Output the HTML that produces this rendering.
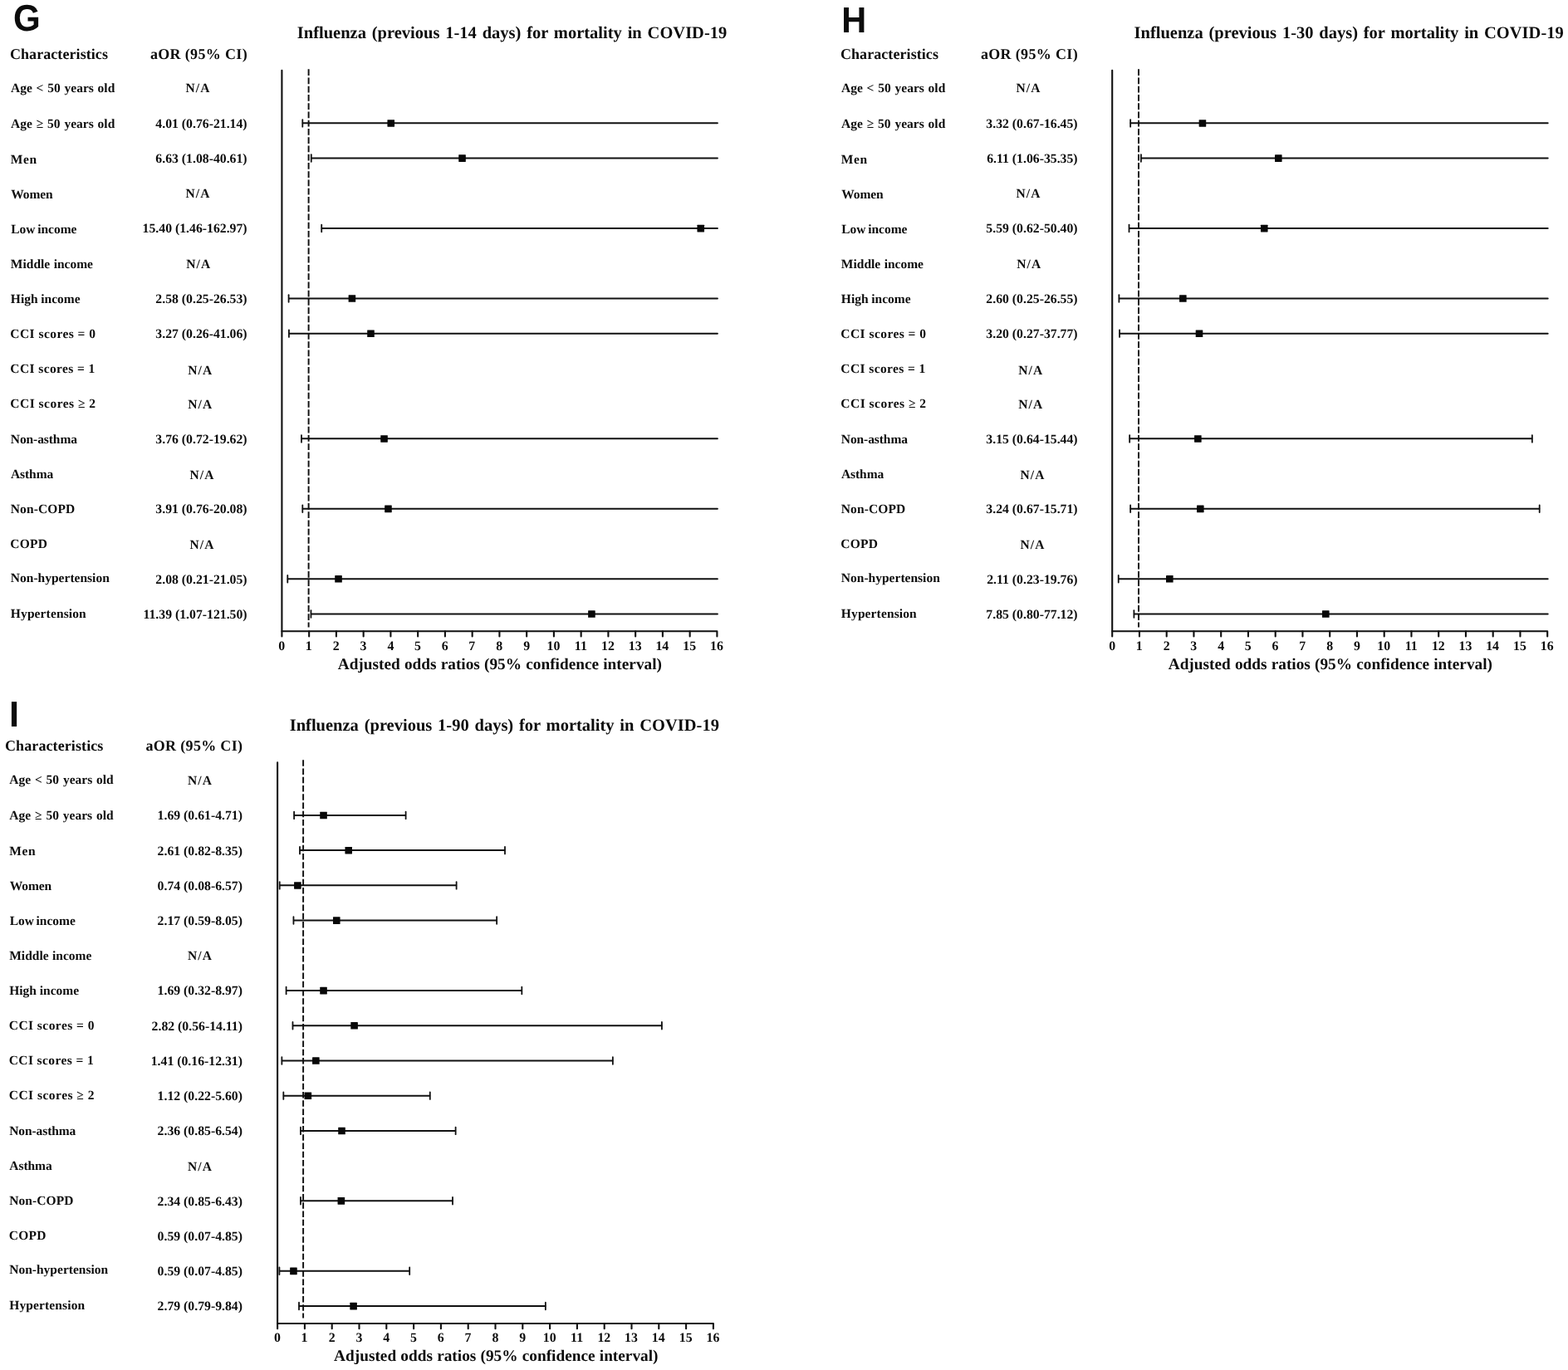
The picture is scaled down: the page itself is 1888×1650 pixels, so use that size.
<!DOCTYPE html>
<html lang="en"><head><meta charset="utf-8"><title>Forest plots G-I: influenza and mortality in COVID-19</title>
<style>
html,body{margin:0;padding:0;background:#fff}
body{width:1888px;height:1650px;overflow:hidden}
svg{display:block}
text{font-family:"Liberation Serif",serif;font-weight:bold;fill:#0c0c0c;white-space:pre;text-rendering:geometricPrecision}
.L{font-family:"Liberation Sans",sans-serif}
.T{font-size:20.5px}
.Hd{font-size:18px}
.R{font-size:15.5px}
.V{font-size:15.75px}
.K{font-size:15.85px}
.X{font-size:19.3px}
.ci{stroke:#111;stroke-width:2;fill:none;stroke-linecap:round}
.cap{stroke:#111;stroke-width:1.8;fill:none;stroke-linecap:round}
.ax{stroke:#111;stroke-width:2.1;fill:none;stroke-linejoin:round;stroke-linecap:round}
.dash{stroke:#111;stroke-width:1.95;fill:none;stroke-dasharray:7.6 2.65}
</style></head>
<body>
<svg width="1888" height="1650" viewBox="0 0 1888 1650">
<rect width="1888" height="1650" fill="#fff"/>
<g id="panelG">
<text class="L" font-size="44.63" transform="translate(16.07 36.66) scale(0.9430 1)">G</text>
<text class="T" x="357.81" y="46.2" style="word-spacing:1.71px">Influenza (previous 1-14 days) for mortality in COVID-19</text>
<text class="Hd" x="11.92" y="71.25" style="letter-spacing:0.076px">Characteristics</text>
<text class="Hd" x="180.92" y="71.25" style="letter-spacing:0.344px">aOR (95% CI)</text>
<text class="R" x="12.95" y="111.23" style="word-spacing:0.93px">Age &lt; 50 years old</text>
<text class="R" x="223.45" y="110.93" style="letter-spacing:1.108px">N/A</text>
<text class="R" x="12.95" y="154" style="word-spacing:1.01px">Age ≥ 50 years old</text>
<text class="V" x="187.36" y="153.8">4.01 (0.76-21.14)</text>
<text class="R" x="12.84" y="196.57" style="letter-spacing:0.635px">Men</text>
<text class="V" x="187.36" y="196.02">6.63 (1.08-40.61)</text>
<text class="R" x="13.28" y="238.74" style="letter-spacing:-0.088px">Women</text>
<text class="R" x="223.45" y="238.09" style="letter-spacing:1.108px">N/A</text>
<text class="R" x="13.24" y="280.91" style="word-spacing:-1.24px">Low income</text>
<text class="V" x="171.61" y="280.46">15.40 (1.46-162.97)</text>
<text class="R" x="12.84" y="322.53" style="word-spacing:0.58px">Middle income</text>
<text class="R" x="224.3" y="322.53" style="letter-spacing:1.108px">N/A</text>
<text class="R" x="12.84" y="364.75" style="word-spacing:-0.14px">High income</text>
<text class="V" x="187.36" y="364.9">2.58 (0.25-26.53)</text>
<text class="R" x="12.34" y="406.57" style="letter-spacing:0.450px">CCI scores = 0</text>
<text class="V" x="187.36" y="407.12">3.27 (0.26-41.06)</text>
<text class="R" x="12.34" y="448.74" style="letter-spacing:0.397px">CCI scores = 1</text>
<text class="R" x="226.3" y="450.59" style="letter-spacing:1.058px">N/A</text>
<text class="R" x="12.34" y="491.01" style="letter-spacing:0.481px">CCI scores ≥ 2</text>
<text class="R" x="226.3" y="492.21" style="letter-spacing:1.058px">N/A</text>
<text class="R" x="12.8" y="534.13" style="letter-spacing:-0.086px">Non-asthma</text>
<text class="V" x="187.36" y="533.78">3.76 (0.72-19.62)</text>
<text class="R" x="12.95" y="575.75" style="letter-spacing:-0.077px">Asthma</text>
<text class="R" x="228.45" y="576.6" style="letter-spacing:1.108px">N/A</text>
<text class="R" x="12.8" y="617.57" style="letter-spacing:0.102px">Non-COPD</text>
<text class="V" x="187.36" y="618.22">3.91 (0.76-20.08)</text>
<text class="R" x="12.34" y="659.89" style="letter-spacing:0.251px">COPD</text>
<text class="R" x="228.45" y="660.74" style="letter-spacing:1.108px">N/A</text>
<text class="R" x="12.8" y="701.21" style="letter-spacing:0.012px">Non-hypertension</text>
<text class="V" x="187.36" y="702.66">2.08 (0.21-21.05)</text>
<text class="R" x="12.84" y="743.53" style="letter-spacing:0.122px">Hypertension</text>
<text class="V" x="172.48" y="744.88">11.39 (1.07-121.50)</text>
<path class="ci" d="M364.69 148.35H863.9"/><path class="cap" d="M364.29 144.05v8.6"/><rect x="466.43" y="144.15" width="8.6" height="8.6" rx="0.4" fill="#080808"/>
<path class="ci" d="M375.17 190.57H863.9"/><path class="cap" d="M374.77 186.27v8.6"/><rect x="552.23" y="186.37" width="8.6" height="8.6" rx="0.4" fill="#080808"/>
<path class="ci" d="M387.61 275.01H863.9"/><path class="cap" d="M387.21 270.71v8.6"/><rect x="839.45" y="270.81" width="8.6" height="8.6" rx="0.4" fill="#080808"/>
<path class="ci" d="M347.99 359.45H863.9"/><path class="cap" d="M347.59 355.15v8.6"/><rect x="419.59" y="355.25" width="8.6" height="8.6" rx="0.4" fill="#080808"/>
<path class="ci" d="M348.31 401.67H863.9"/><path class="cap" d="M347.91 397.37v8.6"/><rect x="442.19" y="397.47" width="8.6" height="8.6" rx="0.4" fill="#080808"/>
<path class="ci" d="M363.38 528.33H863.9"/><path class="cap" d="M362.98 524.03v8.6"/><rect x="458.24" y="524.13" width="8.6" height="8.6" rx="0.4" fill="#080808"/>
<path class="ci" d="M364.69 612.77H863.9"/><path class="cap" d="M364.29 608.47v8.6"/><rect x="463.15" y="608.57" width="8.6" height="8.6" rx="0.4" fill="#080808"/>
<path class="ci" d="M346.68 697.21H863.9"/><path class="cap" d="M346.28 692.91v8.6"/><rect x="403.22" y="693.01" width="8.6" height="8.6" rx="0.4" fill="#080808"/>
<path class="ci" d="M374.84 739.43H863.9"/><path class="cap" d="M374.44 735.13v8.6"/><rect x="708.12" y="735.23" width="8.6" height="8.6" rx="0.4" fill="#080808"/>
<path class="ax" d="M339.4 84.8V760.2H863.4v6.3"/>
<path class="ax" d="M339.4 760.2v6.3M372.15 760.2v6.3M404.9 760.2v6.3M437.65 760.2v6.3M470.4 760.2v6.3M503.15 760.2v6.3M535.9 760.2v6.3M568.65 760.2v6.3M601.4 760.2v6.3M634.15 760.2v6.3M666.9 760.2v6.3M699.65 760.2v6.3M732.4 760.2v6.3M765.15 760.2v6.3M797.9 760.2v6.3M830.65 760.2v6.3"/>
<path class="dash" d="M371.6 83.3V755.6"/>
<text class="K" x="335.34" y="782.6">0</text>
<text class="K" x="367.86" y="782.6">1</text>
<text class="K" x="400.85" y="782.6">2</text>
<text class="K" x="433.56" y="782.6">3</text>
<text class="K" x="466.38" y="782.6">4</text>
<text class="K" x="499.06" y="782.6">5</text>
<text class="K" x="531.8" y="782.6">6</text>
<text class="K" x="564.33" y="782.6">7</text>
<text class="K" x="597.34" y="782.6">8</text>
<text class="K" x="630.16" y="782.6">9</text>
<text class="K" x="658.54" y="782.6">10</text>
<text class="K" x="691.84" y="782.6">11</text>
<text class="K" x="724.08" y="782.6">12</text>
<text class="K" x="756.76" y="782.6">13</text>
<text class="K" x="789.39" y="782.6">14</text>
<text class="K" x="822.28" y="782.6">15</text>
<text class="K" x="854.97" y="782.6">16</text>
<text class="X" x="406.71" y="805.7" style="word-spacing:0.39px">Adjusted odds ratios (95% confidence interval)</text>
</g>
<g id="panelH">
<text class="L" font-size="43.61" transform="translate(1013.13 39.3) scale(0.9499 1)">H</text>
<text class="T" x="1365.51" y="46.2" style="word-spacing:1.68px">Influenza (previous 1-30 days) for mortality in COVID-19</text>
<text class="Hd" x="1011.92" y="71.25" style="letter-spacing:0.076px">Characteristics</text>
<text class="Hd" x="1180.92" y="71.25" style="letter-spacing:0.344px">aOR (95% CI)</text>
<text class="R" x="1012.95" y="111.23" style="word-spacing:0.93px">Age &lt; 50 years old</text>
<text class="R" x="1223.45" y="110.93" style="letter-spacing:1.108px">N/A</text>
<text class="R" x="1012.95" y="154" style="word-spacing:1.01px">Age ≥ 50 years old</text>
<text class="V" x="1187.36" y="153.8">3.32 (0.67-16.45)</text>
<text class="R" x="1012.84" y="196.57" style="letter-spacing:0.635px">Men</text>
<text class="V" x="1188.23" y="196.02">6.11 (1.06-35.35)</text>
<text class="R" x="1013.28" y="238.74" style="letter-spacing:-0.088px">Women</text>
<text class="R" x="1223.45" y="238.09" style="letter-spacing:1.108px">N/A</text>
<text class="R" x="1013.24" y="280.91" style="word-spacing:-1.24px">Low income</text>
<text class="V" x="1187.36" y="280.46">5.59 (0.62-50.40)</text>
<text class="R" x="1012.84" y="322.53" style="word-spacing:0.58px">Middle income</text>
<text class="R" x="1224.3" y="322.53" style="letter-spacing:1.108px">N/A</text>
<text class="R" x="1012.84" y="364.75" style="word-spacing:-0.14px">High income</text>
<text class="V" x="1187.36" y="364.9">2.60 (0.25-26.55)</text>
<text class="R" x="1012.34" y="406.57" style="letter-spacing:0.450px">CCI scores = 0</text>
<text class="V" x="1187.36" y="407.12">3.20 (0.27-37.77)</text>
<text class="R" x="1012.34" y="448.74" style="letter-spacing:0.397px">CCI scores = 1</text>
<text class="R" x="1226.3" y="450.59" style="letter-spacing:1.058px">N/A</text>
<text class="R" x="1012.34" y="491.01" style="letter-spacing:0.481px">CCI scores ≥ 2</text>
<text class="R" x="1226.3" y="492.21" style="letter-spacing:1.058px">N/A</text>
<text class="R" x="1012.8" y="534.13" style="letter-spacing:-0.086px">Non-asthma</text>
<text class="V" x="1187.36" y="533.78">3.15 (0.64-15.44)</text>
<text class="R" x="1012.95" y="575.75" style="letter-spacing:-0.077px">Asthma</text>
<text class="R" x="1228.45" y="576.6" style="letter-spacing:1.108px">N/A</text>
<text class="R" x="1012.8" y="617.57" style="letter-spacing:0.102px">Non-COPD</text>
<text class="V" x="1187.36" y="618.22">3.24 (0.67-15.71)</text>
<text class="R" x="1012.34" y="659.89" style="letter-spacing:0.251px">COPD</text>
<text class="R" x="1228.45" y="660.74" style="letter-spacing:1.108px">N/A</text>
<text class="R" x="1012.8" y="701.21" style="letter-spacing:0.012px">Non-hypertension</text>
<text class="V" x="1188.23" y="702.66">2.11 (0.23-19.76)</text>
<text class="R" x="1012.84" y="743.53" style="letter-spacing:0.122px">Hypertension</text>
<text class="V" x="1187.36" y="744.88">7.85 (0.80-77.12)</text>
<path class="ci" d="M1361.54 148.35H1863.7"/><path class="cap" d="M1361.14 144.05v8.6"/><rect x="1443.63" y="144.15" width="8.6" height="8.6" rx="0.4" fill="#080808"/>
<path class="ci" d="M1374.32 190.57H1863.7"/><path class="cap" d="M1373.91 186.27v8.6"/><rect x="1535" y="186.37" width="8.6" height="8.6" rx="0.4" fill="#080808"/>
<path class="ci" d="M1359.91 275.01H1863.7"/><path class="cap" d="M1359.51 270.71v8.6"/><rect x="1517.97" y="270.81" width="8.6" height="8.6" rx="0.4" fill="#080808"/>
<path class="ci" d="M1347.79 359.45H1863.7"/><path class="cap" d="M1347.39 355.15v8.6"/><rect x="1420.05" y="355.25" width="8.6" height="8.6" rx="0.4" fill="#080808"/>
<path class="ci" d="M1348.44 401.67H1863.7"/><path class="cap" d="M1348.04 397.37v8.6"/><rect x="1439.7" y="397.47" width="8.6" height="8.6" rx="0.4" fill="#080808"/>
<path class="ci" d="M1360.56 528.33H1844.46"/><path class="cap" d="M1360.16 524.03v8.6M1844.86 524.03v8.6"/><rect x="1438.06" y="524.13" width="8.6" height="8.6" rx="0.4" fill="#080808"/>
<path class="ci" d="M1361.54 612.77H1853.3"/><path class="cap" d="M1361.14 608.47v8.6M1853.7 608.47v8.6"/><rect x="1441.01" y="608.57" width="8.6" height="8.6" rx="0.4" fill="#080808"/>
<path class="ci" d="M1347.13 697.21H1863.7"/><path class="cap" d="M1346.73 692.91v8.6"/><rect x="1404" y="693.01" width="8.6" height="8.6" rx="0.4" fill="#080808"/>
<path class="ci" d="M1365.8 739.43H1863.7"/><path class="cap" d="M1365.4 735.13v8.6"/><rect x="1591.99" y="735.23" width="8.6" height="8.6" rx="0.4" fill="#080808"/>
<path class="ax" d="M1339.2 84.8V760.2H1863.2v6.3"/>
<path class="ax" d="M1339.2 760.2v6.3M1371.95 760.2v6.3M1404.7 760.2v6.3M1437.45 760.2v6.3M1470.2 760.2v6.3M1502.95 760.2v6.3M1535.7 760.2v6.3M1568.45 760.2v6.3M1601.2 760.2v6.3M1633.95 760.2v6.3M1666.7 760.2v6.3M1699.45 760.2v6.3M1732.2 760.2v6.3M1764.95 760.2v6.3M1797.7 760.2v6.3M1830.45 760.2v6.3"/>
<path class="dash" d="M1371 83.3V755.6"/>
<text class="K" x="1335.14" y="782.6">0</text>
<text class="K" x="1367.66" y="782.6">1</text>
<text class="K" x="1400.65" y="782.6">2</text>
<text class="K" x="1433.36" y="782.6">3</text>
<text class="K" x="1466.18" y="782.6">4</text>
<text class="K" x="1498.86" y="782.6">5</text>
<text class="K" x="1531.6" y="782.6">6</text>
<text class="K" x="1564.13" y="782.6">7</text>
<text class="K" x="1597.14" y="782.6">8</text>
<text class="K" x="1629.96" y="782.6">9</text>
<text class="K" x="1658.34" y="782.6">10</text>
<text class="K" x="1691.64" y="782.6">11</text>
<text class="K" x="1723.88" y="782.6">12</text>
<text class="K" x="1756.56" y="782.6">13</text>
<text class="K" x="1789.19" y="782.6">14</text>
<text class="K" x="1822.08" y="782.6">15</text>
<text class="K" x="1854.77" y="782.6">16</text>
<text class="X" x="1406.71" y="805.7" style="word-spacing:0.39px">Adjusted odds ratios (95% confidence interval)</text>
</g>
<g id="panelI">
<text class="L" font-size="43.46" transform="translate(10.95 875) scale(0.9984 1)">I</text>
<text class="T" x="348.71" y="880" style="word-spacing:1.68px">Influenza (previous 1-90 days) for mortality in COVID-19</text>
<text class="Hd" x="6.02" y="904.4" style="letter-spacing:0.097px">Characteristics</text>
<text class="Hd" x="175.42" y="904.4" style="letter-spacing:0.330px">aOR (95% CI)</text>
<text class="R" x="11.35" y="944.48" style="word-spacing:0.93px">Age &lt; 50 years old</text>
<text class="R" x="225.95" y="944.68" style="letter-spacing:1.108px">N/A</text>
<text class="R" x="11.35" y="987.25" style="word-spacing:1.01px">Age ≥ 50 years old</text>
<text class="V" x="189.58" y="987.35">1.69 (0.61-4.71)</text>
<text class="R" x="11.24" y="1029.82" style="letter-spacing:0.635px">Men</text>
<text class="V" x="189.58" y="1029.57">2.61 (0.82-8.35)</text>
<text class="R" x="11.68" y="1071.99" style="letter-spacing:-0.088px">Women</text>
<text class="V" x="189.58" y="1071.79">0.74 (0.08-6.57)</text>
<text class="R" x="11.64" y="1114.16" style="word-spacing:-1.24px">Low income</text>
<text class="V" x="189.58" y="1114.01">2.17 (0.59-8.05)</text>
<text class="R" x="11.24" y="1155.78" style="word-spacing:0.58px">Middle income</text>
<text class="R" x="225.95" y="1156.08" style="letter-spacing:1.108px">N/A</text>
<text class="R" x="11.24" y="1198" style="word-spacing:-0.14px">High income</text>
<text class="V" x="189.58" y="1198.45">1.69 (0.32-8.97)</text>
<text class="R" x="10.74" y="1239.82" style="letter-spacing:0.450px">CCI scores = 0</text>
<text class="V" x="182.58" y="1240.67">2.82 (0.56-14.11)</text>
<text class="R" x="10.74" y="1281.99" style="letter-spacing:0.397px">CCI scores = 1</text>
<text class="V" x="181.71" y="1282.89">1.41 (0.16-12.31)</text>
<text class="R" x="10.74" y="1324.26" style="letter-spacing:0.481px">CCI scores ≥ 2</text>
<text class="V" x="189.58" y="1325.11">1.12 (0.22-5.60)</text>
<text class="R" x="11.2" y="1367.38" style="letter-spacing:-0.086px">Non-asthma</text>
<text class="V" x="189.58" y="1367.33">2.36 (0.85-6.54)</text>
<text class="R" x="11.35" y="1409" style="letter-spacing:-0.077px">Asthma</text>
<text class="R" x="225.95" y="1409.6" style="letter-spacing:1.108px">N/A</text>
<text class="R" x="11.2" y="1450.82" style="letter-spacing:0.102px">Non-COPD</text>
<text class="V" x="189.58" y="1451.77">2.34 (0.85-6.43)</text>
<text class="R" x="10.74" y="1493.14" style="letter-spacing:0.251px">COPD</text>
<text class="V" x="189.58" y="1493.99">0.59 (0.07-4.85)</text>
<text class="R" x="11.2" y="1534.46" style="letter-spacing:0.012px">Non-hypertension</text>
<text class="V" x="189.58" y="1536.21">0.59 (0.07-4.85)</text>
<text class="R" x="11.24" y="1576.78" style="letter-spacing:0.122px">Hypertension</text>
<text class="V" x="189.58" y="1578.43">2.79 (0.79-9.84)</text>
<path class="ci" d="M354.51 981.9H488.19"/><path class="cap" d="M354.11 977.6v8.6M488.59 977.6v8.6"/><rect x="385.23" y="977.7" width="8.6" height="8.6" rx="0.4" fill="#080808"/>
<path class="ci" d="M361.4 1024.12H607.58"/><path class="cap" d="M361 1019.82v8.6M607.98 1019.82v8.6"/><rect x="415.41" y="1019.92" width="8.6" height="8.6" rx="0.4" fill="#080808"/>
<path class="ci" d="M337.12 1066.34H549.2"/><path class="cap" d="M336.72 1062.04v8.6M549.6 1062.04v8.6"/><rect x="354.07" y="1062.14" width="8.6" height="8.6" rx="0.4" fill="#080808"/>
<path class="ci" d="M353.85 1108.56H597.74"/><path class="cap" d="M353.45 1104.26v8.6M598.14 1104.26v8.6"/><rect x="400.98" y="1104.36" width="8.6" height="8.6" rx="0.4" fill="#080808"/>
<path class="ci" d="M345 1193H627.92"/><path class="cap" d="M344.6 1188.7v8.6M628.32 1188.7v8.6"/><rect x="385.23" y="1188.8" width="8.6" height="8.6" rx="0.4" fill="#080808"/>
<path class="ci" d="M352.87 1235.22H796.51"/><path class="cap" d="M352.47 1230.92v8.6M796.91 1230.92v8.6"/><rect x="422.3" y="1231.02" width="8.6" height="8.6" rx="0.4" fill="#080808"/>
<path class="ci" d="M339.75 1277.44H737.47"/><path class="cap" d="M339.35 1273.14v8.6M737.87 1273.14v8.6"/><rect x="376.05" y="1273.24" width="8.6" height="8.6" rx="0.4" fill="#080808"/>
<path class="ci" d="M341.72 1319.66H517.38"/><path class="cap" d="M341.32 1315.36v8.6M517.78 1315.36v8.6"/><rect x="366.54" y="1315.46" width="8.6" height="8.6" rx="0.4" fill="#080808"/>
<path class="ci" d="M362.38 1361.88H548.21"/><path class="cap" d="M361.98 1357.58v8.6M548.61 1357.58v8.6"/><rect x="407.21" y="1357.68" width="8.6" height="8.6" rx="0.4" fill="#080808"/>
<path class="ci" d="M362.38 1446.32H544.6"/><path class="cap" d="M361.98 1442.02v8.6M545 1442.02v8.6"/><rect x="406.55" y="1442.12" width="8.6" height="8.6" rx="0.4" fill="#080808"/>
<path class="ci" d="M336.8 1530.76H492.78"/><path class="cap" d="M336.4 1526.46v8.6M493.18 1526.46v8.6"/><rect x="349.15" y="1526.56" width="8.6" height="8.6" rx="0.4" fill="#080808"/>
<path class="ci" d="M360.41 1572.98H656.45"/><path class="cap" d="M360.01 1568.68v8.6M656.85 1568.68v8.6"/><rect x="421.31" y="1568.78" width="8.6" height="8.6" rx="0.4" fill="#080808"/>
<path class="ax" d="M334.1 918.4V1594H858.9v6.3"/>
<path class="ax" d="M334.1 1594v6.3M366.9 1594v6.3M399.7 1594v6.3M432.5 1594v6.3M465.3 1594v6.3M498.1 1594v6.3M530.9 1594v6.3M563.7 1594v6.3M596.5 1594v6.3M629.3 1594v6.3M662.1 1594v6.3M694.9 1594v6.3M727.7 1594v6.3M760.5 1594v6.3M793.3 1594v6.3M826.1 1594v6.3"/>
<path class="dash" d="M365.1 915.2V1587.4"/>
<text class="K" x="330.04" y="1616.4">0</text>
<text class="K" x="362.61" y="1616.4">1</text>
<text class="K" x="395.65" y="1616.4">2</text>
<text class="K" x="428.41" y="1616.4">3</text>
<text class="K" x="461.28" y="1616.4">4</text>
<text class="K" x="494.01" y="1616.4">5</text>
<text class="K" x="526.8" y="1616.4">6</text>
<text class="K" x="559.38" y="1616.4">7</text>
<text class="K" x="592.44" y="1616.4">8</text>
<text class="K" x="625.31" y="1616.4">9</text>
<text class="K" x="653.74" y="1616.4">10</text>
<text class="K" x="687.09" y="1616.4">11</text>
<text class="K" x="719.38" y="1616.4">12</text>
<text class="K" x="752.11" y="1616.4">13</text>
<text class="K" x="784.79" y="1616.4">14</text>
<text class="K" x="817.73" y="1616.4">15</text>
<text class="K" x="850.47" y="1616.4">16</text>
<text class="X" x="402.11" y="1639.3" style="word-spacing:0.41px">Adjusted odds ratios (95% confidence interval)</text>
</g>
</svg>
</body></html>
